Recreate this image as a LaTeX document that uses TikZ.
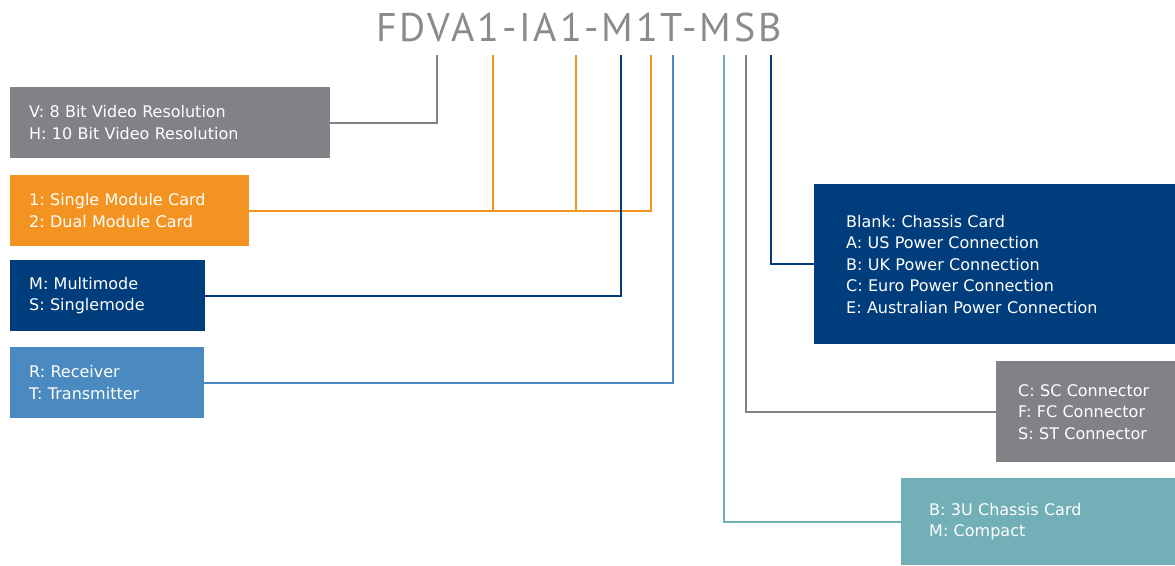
\documentclass[tikz,border=0pt]{standalone}
\usepackage{fontspec}
\setmainfont{DejaVu Sans}
\newfontfamily\codefont[LetterSpace=7]{PT Sans}
\frenchspacing
\usepackage{tikz}
\usetikzlibrary{positioning}

\definecolor{keygray}{HTML}{818286}
\definecolor{codegray}{HTML}{8A8B8E}
\definecolor{keyorange}{HTML}{F39321}
\definecolor{keynavy}{HTML}{003D7C}
\definecolor{keyblue}{HTML}{4A8AC0}
\definecolor{keyteal}{HTML}{72AFB6}

\tikzset{
  keybox/.style={rectangle, inner ysep=0pt, text=white, align=left, anchor=north west,
    font=\fontsize{16}{21.5}\selectfont},
  keyline/.style={line width=2pt},
}

\begin{document}
\begin{tikzpicture}[x=1pt,y=-1pt]
            \useasboundingbox (0,0) rectangle (1175,565);
            \node[text=codegray, font=\fontsize{40}{40}\selectfont\codefont] (code) at (579,27) {FDVA1-IA1-M1T-MSB}; % part number
            % tap points under the part number
            \coordinate (tres) at (437,55);
            \coordinate (tmoda) at (493,55);
            \coordinate (tmodb) at (576,55);
            \coordinate (tmodc) at (651,55);
            \coordinate (tmode) at (621,55);
            \coordinate (tdir) at (673,55);
            \coordinate (tform) at (724,55);
            \coordinate (tconn) at (746,55);
            \coordinate (tpow) at (771,55);
            % option boxes
            \node[keybox, fill=keygray, inner xsep=19pt, text width=282pt, minimum height=71pt] (res) at (10,87) {V: 8 Bit Video Resolution\\H: 10 Bit Video Resolution};
            \node[keybox, fill=keyorange, inner xsep=19pt, text width=201pt, minimum height=71pt] (mod) at (10,175) {1: Single Module Card\\2: Dual Module Card};
            \node[keybox, fill=keynavy, inner xsep=19pt, text width=157pt, minimum height=71pt] (mode) at (10,260) {M: Multimode\\S: Singlemode};
            \node[keybox, fill=keyblue, inner xsep=19pt, text width=156pt, minimum height=71pt] (dir) at (10,347) {R: Receiver\\T: Transmitter};
            \node[keybox, fill=keynavy, inner xsep=32pt, text width=297pt, minimum height=160pt] (pow) at (814,184) {Blank: Chassis Card\\A: US Power Connection\\B: UK Power Connection\\C: Euro Power Connection\\E: Australian Power Connection};
            \node[keybox, fill=keygray, inner xsep=22pt, text width=135pt, minimum height=101pt] (conn) at (996,361) {C: SC Connector\\F: FC Connector\\S: ST Connector};
            \node[keybox, fill=keyteal, inner xsep=28pt, text width=218pt, minimum height=87pt] (form) at (901,478) {B: 3U Chassis Card\\M: Compact};
            % connectors
            \draw[keyline, keygray] (tres) |- (res.east);
            \draw[keyline, keyorange] (mod.east) -| (tmodc);
            \draw[keyline, keyorange] (tmoda) -- (tmoda |- mod.east);
            \draw[keyline, keyorange] (tmodb) -- (tmodb |- mod.east);
            \draw[keyline, keynavy] (tmode) |- (mode.east);
            \draw[keyline, keyblue] (tdir) |- (dir.east);
            \draw[keyline, keyteal] (tform) |- (form.west);
            \draw[keyline, keygray] (tconn) |- (conn.west);
            \draw[keyline, keynavy] (tpow) |- (pow.west);
        \end{tikzpicture}
\end{document}
